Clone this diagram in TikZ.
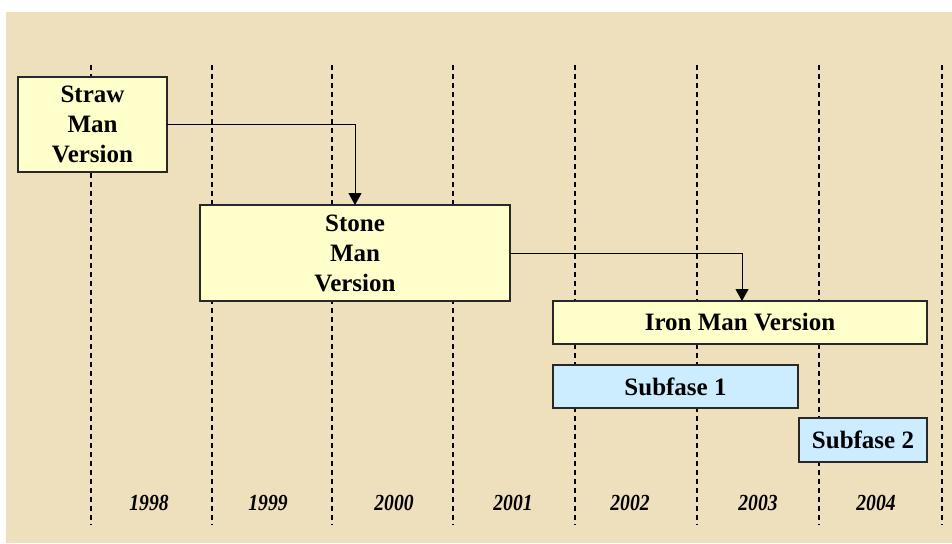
\documentclass[tikz,border=0pt]{standalone}
\usepackage{fontspec}
\setmainfont{Liberation Serif}
\usetikzlibrary{arrows.meta}

\definecolor{parchment}{RGB}{238,223,189}
\definecolor{phaseyellow}{RGB}{255,255,204}
\definecolor{phaseblue}{RGB}{204,236,255}
\definecolor{edgegray}{RGB}{40,40,40}

\newcommand{\tallyear}[1]{\scalebox{0.98}[1.15]{#1}}

\tikzset{
  yearline/.style={black, line width=1.1pt, dash pattern=on 5pt off 4pt},
  phasebox/.style={draw=edgegray, line width=1.3pt, inner sep=0pt, outer sep=0pt,
    anchor=north west, align=center, font=\fontsize{25}{30}\selectfont\bfseries},
  yellowbox/.style={phasebox, fill=phaseyellow},
  bluebox/.style={phasebox, fill=phaseblue},
  yearlabel/.style={font=\fontsize{20}{24}\selectfont\bfseries\itshape, inner sep=0pt},
  flow/.style={line width=1pt, -{Triangle[width=13pt,length=12pt]}}
}

\begin{document}
\begin{tikzpicture}[x=1pt,y=-1pt]
  \useasboundingbox (0,0) rectangle (952,543);

  % parchment backdrop
  \fill[parchment] (6,12) rectangle (952,543);

  % year separators
  \foreach \xx in {91,212,332,453,575,697,819,942}
    \draw[yearline] (\xx,65) -- (\xx,525);

  % year labels
  \foreach \xx/\yr in {149/1998,268/1999,394/2000,513/2001,630/2002,758/2003,876/2004}
    \node[yearlabel] (y\yr) at (\xx,503) {\tallyear{\yr}};

  % phases
  \node[yellowbox, minimum width=149pt, minimum height=95pt] (straw) at (18,77)
    {\raisebox{-2pt}{\parbox{140pt}{\centering Straw\\Man\\Version}}};
  \node[yellowbox, minimum width=310pt, minimum height=96pt] (stone) at (200,205)
    {\raisebox{-2pt}{\parbox{300pt}{\centering Stone\\Man\\Version}}};
  \node[yellowbox, minimum width=374pt, minimum height=43pt] (iron) at (553,301)
    {Iron Man Version};
  \node[bluebox, minimum width=245pt, minimum height=43pt] (sub1) at (553,365)
    {Subfase 1};
  \node[bluebox, minimum width=128pt, minimum height=44pt] (sub2) at (799,418)
    {Subfase 2};

  % transitions between versions
  \draw[flow] (straw.east) -| (stone.north);
  \draw[flow] (stone.east) -| ([xshift=2pt]iron.north);
\end{tikzpicture}
\end{document}
